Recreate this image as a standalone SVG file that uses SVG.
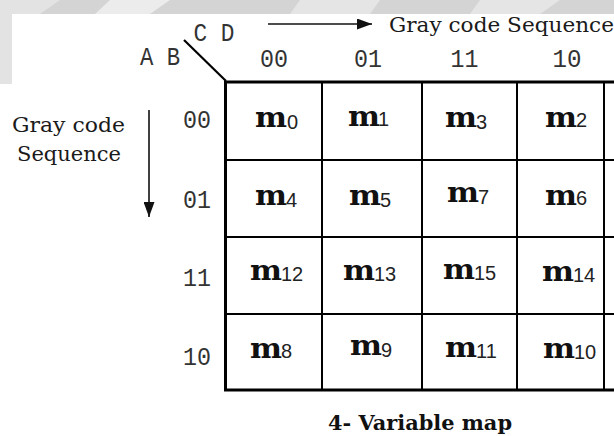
<svg xmlns="http://www.w3.org/2000/svg" width="614" height="436" viewBox="0 0 614 436">
<defs>
<style>
.bg{fill:#ffffff}
.wm{fill:#d4d4d4}
.wml{fill:#ececec}
.hdr{font-family:"Liberation Mono","Courier New",monospace;font-size:26px;fill:#333;text-anchor:middle}
.lab{font-family:"DejaVu Serif","Liberation Serif",serif;font-size:21px;fill:#1a1a1a}
.m{font-family:"DejaVu Serif","Liberation Serif",serif;font-weight:bold;font-size:27px;fill:#111}
.d{font-family:"Liberation Sans","Arial",sans-serif;font-size:20px;fill:#222}
.outer{fill:none;stroke:#000;stroke-width:3}
.inner{stroke:#000;stroke-width:2;fill:none}
.conn{stroke:#111;stroke-width:1.6;fill:none}
.cap{font-family:"DejaVu Serif","Liberation Serif",serif;font-weight:bold;font-size:20px;fill:#111}
</style>
<marker id="ah" viewBox="0 0 15 11" refX="15" refY="5.5" markerWidth="15" markerHeight="11" markerUnits="userSpaceOnUse" orient="auto">
<path d="M0,0 L15,5.5 L0,11 z" fill="#111"/>
</marker>
</defs>
<rect class="bg" x="0" y="0" width="614" height="436"/>
<g id="watermark">
<rect class="wm" x="0" y="0" width="614" height="14"/>
<rect class="wm" x="0" y="0" width="12" height="84"/>
<path class="wml" d="M0,0 H60 L40,14 H12 V84 H0 Z" opacity="0.6"/>
<path class="wml" d="M110,0 H170 L150,14 H95 Z"/>
<path class="wml" d="M300,0 H380 L370,14 H290 Z" opacity="0.7"/>
<path class="wml" d="M480,0 H560 L540,14 H470 Z" opacity="0.7"/>
</g>
<g id="connectors">
<line class="conn" x1="268" y1="24" x2="372" y2="24" marker-end="url(#ah)"/>
<line class="conn" x1="149" y1="110" x2="149" y2="217" marker-end="url(#ah)"/>
<line x1="184" y1="40" x2="226" y2="81" stroke="#000" stroke-width="2.2"/>
</g>
<g id="labels">
<text class="hdr" x="214" y="41" textLength="41" lengthAdjust="spacingAndGlyphs">C D</text>
<text class="hdr" x="160" y="65" textLength="40" lengthAdjust="spacingAndGlyphs">A B</text>
<text class="lab" x="389" y="32" textLength="225" lengthAdjust="spacingAndGlyphs">Gray code Sequence</text>
<text class="lab" x="12" y="132" textLength="113" lengthAdjust="spacingAndGlyphs">Gray code</text>
<text class="lab" x="17" y="161" textLength="104" lengthAdjust="spacingAndGlyphs">Sequence</text>
<text class="hdr" x="274" y="67" textLength="28" lengthAdjust="spacingAndGlyphs">00</text>
<text class="hdr" x="368" y="67" textLength="28" lengthAdjust="spacingAndGlyphs">01</text>
<text class="hdr" x="464.5" y="67" textLength="28" lengthAdjust="spacingAndGlyphs">11</text>
<text class="hdr" x="567" y="67" textLength="29" lengthAdjust="spacingAndGlyphs">10</text>
<text class="hdr" x="197" y="128" textLength="28" lengthAdjust="spacingAndGlyphs">00</text>
<text class="hdr" x="197" y="208" textLength="28" lengthAdjust="spacingAndGlyphs">01</text>
<text class="hdr" x="197" y="286" textLength="28" lengthAdjust="spacingAndGlyphs">11</text>
<text class="hdr" x="197" y="365" textLength="28" lengthAdjust="spacingAndGlyphs">10</text>
</g>
<g id="grid">
<line class="inner" x1="322" y1="82" x2="322" y2="390"/>
<line class="inner" x1="422" y1="82" x2="422" y2="390"/>
<line class="inner" x1="517" y1="82" x2="517" y2="390"/>
<line class="inner" x1="604" y1="82" x2="604" y2="390" stroke-width="1.5"/>
<line class="inner" x1="226" y1="160" x2="614" y2="160"/>
<line class="inner" x1="226" y1="237" x2="614" y2="237"/>
<line class="inner" x1="226" y1="314" x2="614" y2="314"/>
<path class="outer" d="M614,82 H225.5 V390 H614"/>
</g>
<g id="cell-m0"><text class="m" x="255" y="127" textLength="32" lengthAdjust="spacingAndGlyphs">m</text><text class="d" x="287" y="129">0</text></g>
<g id="cell-m1"><text class="m" x="348" y="126" textLength="32" lengthAdjust="spacingAndGlyphs">m</text><text class="d" x="378" y="126">1</text></g>
<g id="cell-m3"><text class="m" x="445" y="127" textLength="32" lengthAdjust="spacingAndGlyphs">m</text><text class="d" x="476" y="129">3</text></g>
<g id="cell-m2"><text class="m" x="545" y="127" textLength="32" lengthAdjust="spacingAndGlyphs">m</text><text class="d" x="576" y="127">2</text></g>
<g id="cell-m4"><text class="m" x="255" y="205" textLength="32" lengthAdjust="spacingAndGlyphs">m</text><text class="d" x="286" y="207">4</text></g>
<g id="cell-m5"><text class="m" x="349" y="205" textLength="32" lengthAdjust="spacingAndGlyphs">m</text><text class="d" x="380" y="207">5</text></g>
<g id="cell-m7"><text class="m" x="447" y="202" textLength="32" lengthAdjust="spacingAndGlyphs">m</text><text class="d" x="478" y="204">7</text></g>
<g id="cell-m6"><text class="m" x="545" y="205" textLength="32" lengthAdjust="spacingAndGlyphs">m</text><text class="d" x="576" y="205">6</text></g>
<g id="cell-m12"><text class="m" x="250" y="280" textLength="32" lengthAdjust="spacingAndGlyphs">m</text><text class="d" x="281" y="281">12</text></g>
<g id="cell-m13"><text class="m" x="343" y="280" textLength="32" lengthAdjust="spacingAndGlyphs">m</text><text class="d" x="374" y="281">13</text></g>
<g id="cell-m15"><text class="m" x="443" y="279" textLength="32" lengthAdjust="spacingAndGlyphs">m</text><text class="d" x="474" y="280">15</text></g>
<g id="cell-m14"><text class="m" x="542" y="281" textLength="32" lengthAdjust="spacingAndGlyphs">m</text><text class="d" x="573" y="282">14</text></g>
<g id="cell-m8"><text class="m" x="250" y="358" textLength="32" lengthAdjust="spacingAndGlyphs">m</text><text class="d" x="281" y="358">8</text></g>
<g id="cell-m9"><text class="m" x="350" y="355" textLength="32" lengthAdjust="spacingAndGlyphs">m</text><text class="d" x="381" y="357">9</text></g>
<g id="cell-m11"><text class="m" x="445" y="357" textLength="32" lengthAdjust="spacingAndGlyphs">m</text><text class="d" x="476" y="358">11</text></g>
<g id="cell-m10"><text class="m" x="543" y="358" textLength="32" lengthAdjust="spacingAndGlyphs">m</text><text class="d" x="574" y="359">10</text></g>
<g id="caption"><text class="cap" x="328" y="430" textLength="184" lengthAdjust="spacingAndGlyphs">4- Variable map</text></g>
</svg>
